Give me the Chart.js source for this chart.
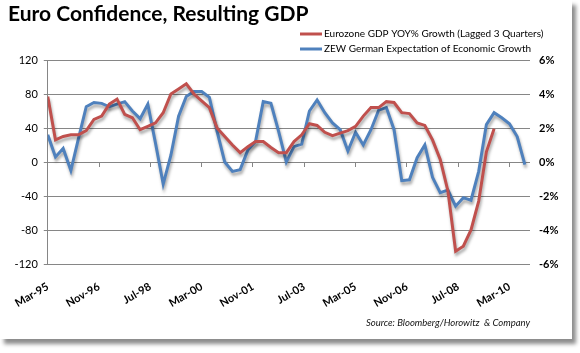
<!DOCTYPE html>
<html>
<head>
<meta charset="utf-8">
<script src="https://cdn.jsdelivr.net/npm/chart.js@4/dist/chart.umd.min.js"></script>
<style>
  html, body { margin: 0; padding: 0; background: #fff; }
  #frame {
    position: absolute; left: 0; top: 0;
    width: 572px; height: 339px; background: #fff;
    box-shadow: 4px 5px 4px rgba(0, 0, 0, 0.45);
  }
</style>
</head>
<body>
<div id="frame"><canvas id="chart" width="572" height="339"></canvas></div>
<script>
// x axis labels, one every 20 months starting Mar-95
const tickLabels = ["Mar-95", "Nov-96", "Jul-98", "Mar-00", "Nov-01", "Jul-03", "Mar-05", "Nov-06", "Jul-08", "Mar-10"];

// quarterly readings from Mar-95 (right axis, %)
const gdpGrowth = [
  3.85, 1.3, 1.5, 1.6, 1.6, 1.85, 2.5, 2.7, 3.4, 3.7,
  2.8, 2.6, 1.9, 2.1, 2.3, 2.9, 4.0, 4.3, 4.6, 4.0,
  3.6, 3.2, 2.0, 1.5, 1.0, 0.55, 0.9, 1.2, 1.2, 0.85,
  0.55, 0.55, 1.2, 1.6, 2.25, 2.15, 1.75, 1.55, 1.7, 1.85,
  2.1, 2.7, 3.2, 3.2, 3.55, 3.5, 2.9, 2.85, 2.3, 2.15,
  1.3, 0.15, -1.7, -5.25, -4.95, -4.0, -2.3, 0.6, 1.95
];

// quarterly readings from Mar-95 (left axis)
const zew = [
  32, 6, 16, -10, 28, 65, 70, 69, 65, 68,
  71, 60, 51, 68, 22, -26, 8, 54, 77, 83,
  83, 76, 36, 0, -11, -9, 14, 24, 71, 69,
  36, 0, 18, 21, 60, 73, 58, 46, 38, 13,
  35, 20, 38, 61, 64, 38, -22, -21, 5, 20,
  -18, -36, -33, -52, -42, -45, -11, 44, 58, 52,
  45, 30, -3
];

const toPoints = (arr) => arr.map((v, i) => ({ x: i * 3, y: v }));
const labelTicks = (scale) => {
  scale.ticks = tickLabels.map((_, i) => ({ value: i * 20 }));
};

const lineShadow = {
  id: "lineShadow",
  // let the left labels use the padding strip (they get clipped to the scale box otherwise)
  afterLayout(chart) {
    chart.scales.y.left = 0;
  },
  beforeDatasetDraw(chart) {
    const c = chart.ctx;
    c.save();
    c.shadowColor = "rgba(0,0,0,0.35)";
    c.shadowBlur = 3;
    c.shadowOffsetX = 1;
    c.shadowOffsetY = 3;
  },
  afterDatasetDraw(chart) {
    chart.ctx.restore();
  }
};

// two-row legend in the top right
const stackedLegend = {
  id: "stackedLegend",
  afterDraw(chart) {
    const c = chart.ctx;
    c.save();
    c.font = "10px Lato";
    c.textBaseline = "middle";
    chart.data.datasets.forEach((ds, i) => {
      const y = 34 + i * 15;
      c.strokeStyle = ds.borderColor;
      c.lineWidth = 3;
      c.beginPath();
      c.moveTo(300, y);
      c.lineTo(322, y);
      c.stroke();
      c.fillStyle = "#000";
      c.fillText(ds.label, 324, y);
    });
    c.restore();
  }
};

new Chart(document.getElementById("chart"), {
  type: "line",
  data: {
    datasets: [
      {
        label: "Eurozone GDP YOY% Growth (Lagged 3 Quarters)",
        data: toPoints(gdpGrowth),
        yAxisID: "y1",
        borderColor: "#C0504D",
        borderWidth: 3,
        pointRadius: 0,
        tension: 0
      },
      {
        label: "ZEW German Expectation of Economic Growth",
        data: toPoints(zew),
        yAxisID: "y",
        borderColor: "#4F81BD",
        borderWidth: 3,
        pointRadius: 0,
        tension: 0
      }
    ]
  },
  options: {
    responsive: false,
    animation: false,
    layout: { padding: { left: 8 } },
    scales: {
      x: {
        type: "linear",
        min: 0,
        max: 188,
        position: "bottom",
        afterBuildTicks: labelTicks,
        grid: { display: false, drawTicks: false },
        border: { display: false },
        ticks: {
          autoSkip: false,
          minRotation: 30,
          maxRotation: 30,
          padding: 16,
          color: "#000",
          font: { family: "Lato", weight: "bold", size: 11 },
          callback: (v) => tickLabels[Math.round(v / 20)]
        },
        afterFit: (s) => { s.height = 53.6; }
      },
      xMarks: {
        type: "linear",
        axis: "x",
        min: 0,
        max: 188,
        position: { y: 0 },
        afterBuildTicks: labelTicks,
        grid: { drawOnChartArea: false, drawTicks: true, tickLength: 5, color: "#868686" },
        border: { display: false },
        ticks: { display: false }
      },
      y: {
        min: -120,
        max: 120,
        position: "left",
        ticks: { stepSize: 40, padding: 6, color: "#000", font: { family: "Lato", size: 11 } },
        grid: { color: "#868686", tickLength: 4 },
        border: { color: "#868686" },
        afterFit: (s) => { s.width = 30; }
      },
      y1: {
        min: -6,
        max: 6,
        position: "right",
        ticks: {
          stepSize: 2,
          padding: 4,
          color: "#000",
          font: { family: "Lato", size: 11, weight: "bold" },
          callback: (v) => v + "%"
        },
        grid: { drawOnChartArea: false, tickLength: 5, tickColor: "rgba(0,0,0,0)" },
        border: { display: false },
        afterFit: (s) => { s.width = 42; }
      }
    },
    plugins: {
      legend: { display: false },
      tooltip: { enabled: false },
      title: {
        display: true,
        text: "Euro Confidence, Resulting GDP",
        align: "start",
        color: "#000",
        font: { family: "Lato", size: 21, weight: "bold" },
        padding: { top: 2, bottom: 32.8 }
      },
      subtitle: {
        display: true,
        position: "bottom",
        align: "end",
        fullSize: false,
        text: "Source: Bloomberg/Horowitz  & Company",
        color: "#111",
        font: { family: "Lato", size: 9.5, style: "italic" },
        padding: { top: 0, bottom: 10 }
      }
    }
  },
  plugins: [lineShadow, stackedLegend]
});
</script>
</body>
</html>
